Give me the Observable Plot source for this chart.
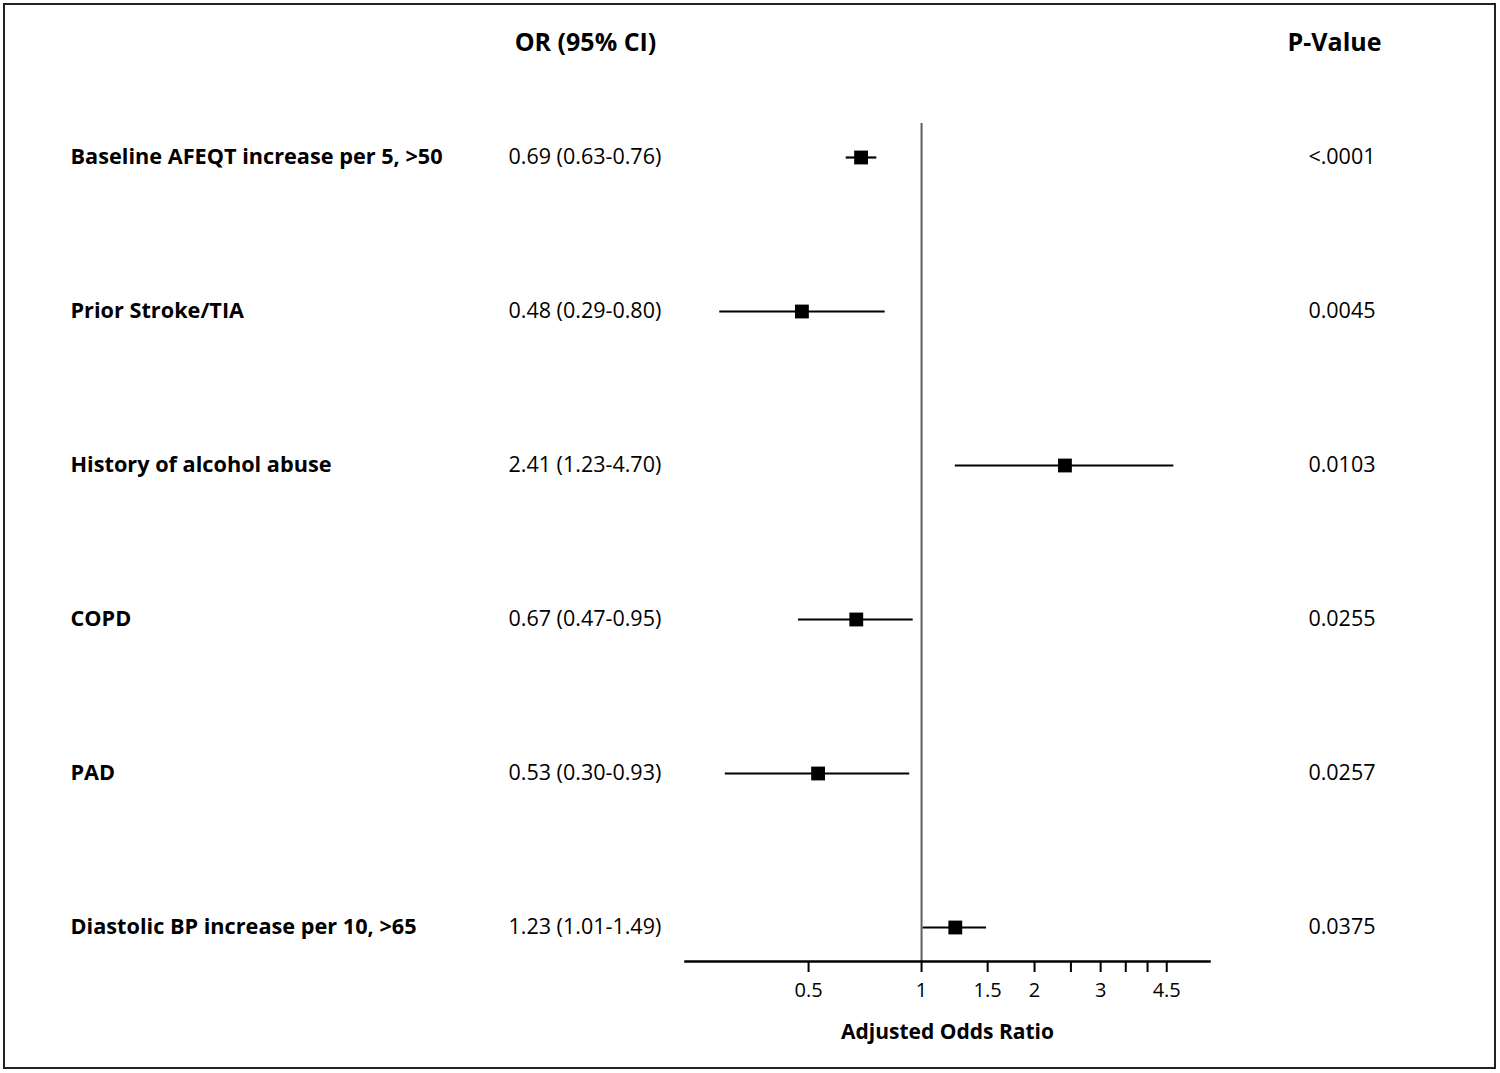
<!DOCTYPE html>
<html>
<head>
<meta charset="utf-8">
<script src="https://cdn.jsdelivr.net/npm/d3@7"></script>
<script src="https://cdn.jsdelivr.net/npm/@observablehq/plot@0.6"></script>
<style>
  html, body { margin: 0; padding: 0; background: #fff; }
  #wrap { position: relative; width: 1500px; height: 1073px; overflow: hidden; }
  #border { position: absolute; left: 3px; top: 3px; width: 1489px; height: 1062px; border: 2px solid #222; pointer-events: none; }
  svg { font-family: "Open Sans", sans-serif; }
</style>
</head>
<body>
<div id="wrap"><div id="border"></div></div>
<script>
const labels = [
  "Baseline AFEQT increase per 5, >50",
  "Prior Stroke/TIA",
  "History of alcohol abuse",
  "COPD",
  "PAD",
  "Diastolic BP increase per 10, >65"
];
const orValues = [0.69, 0.48, 2.41, 0.67, 0.53, 1.23];
const ciLow = [0.63, 0.29, 1.23, 0.47, 0.30, 1.01];
const ciHigh = [0.76, 0.80, 4.70, 0.95, 0.93, 1.49];
const pValues = ["<.0001", "0.0045", "0.0103", "0.0255", "0.0257", "0.0375"];
const tickValues = [0.5, 1, 1.5, 2, 3, 4.5];
const minorTicks = [2.5, 3.5, 4];
const headerOR = "OR (95% CI)";
const headerP = "P-Value";
const xLabel = "Adjusted Odds Ratio";

const fmt = d => d.toFixed(2);
const rows = labels.map((label, i) => ({
  label, or: orValues[i], lo: ciLow[i], hi: ciHigh[i], p: pValues[i],
  orText: `${fmt(orValues[i])} (${fmt(ciLow[i])}-${fmt(ciHigh[i])})`
}));

const W = 1500, H = 1073;
const mL = 685, mR = 291, mT = 123, mB = 112;

const chart = Plot.plot({
  width: W,
  height: H,
  marginLeft: mL,
  marginRight: mR,
  marginTop: mT,
  marginBottom: mB,
  style: { fontFamily: "'Open Sans', sans-serif", background: "transparent" },
  x: { type: "log", domain: [0.235, 5.85] },
  y: { type: "point", domain: labels, padding: 0.215, axis: null },
  marks: [
    Plot.ruleX([1], { stroke: "#5e5e5e", strokeWidth: 2 }),
    Plot.ruleY(rows, { y: "label", x1: "lo", x2: "hi", stroke: "#000", strokeWidth: 2.2 }),
    Plot.dot(rows, { x: "or", y: "label", symbol: "square", r: 7.8, fill: "#000", stroke: "none" }),
    Plot.axisX(tickValues, { tickFormat: d => String(d), tickSize: 11, tickPadding: 10, fontSize: 20, stroke: "#000", strokeWidth: 2, fill: "#000", label: null }),
    Plot.axisX(minorTicks, { tickFormat: () => "", tickSize: 11, stroke: "#000", strokeWidth: 2, label: null }),
    Plot.frame({ anchor: "bottom", stroke: "#000", strokeWidth: 2.5 }),
    Plot.text(rows, { y: "label", text: "label", frameAnchor: "left", dx: 70 - mL, textAnchor: "start", fontWeight: "bold", fontSize: 21.7, fill: "#000" }),
    Plot.text(rows, { y: "label", text: "orText", frameAnchor: "left", dx: 508 - mL, textAnchor: "start", fontSize: 21.5, fill: "#000" }),
    Plot.text(rows, { y: "label", text: "p", frameAnchor: "left", dx: 1375 - mL, textAnchor: "end", fontSize: 21.5, fill: "#000" }),
    Plot.text([headerOR], { frameAnchor: "top-left", dx: 585 - mL, dy: 42 - mT, textAnchor: "middle", lineAnchor: "middle", fontWeight: "bold", fontSize: 25, fill: "#000" }),
    Plot.text([headerP], { frameAnchor: "top-left", dx: 1334 - mL, dy: 42 - mT, textAnchor: "middle", lineAnchor: "middle", fontWeight: "bold", fontSize: 25, fill: "#000", letterSpacing: 1 }),
    Plot.text([xLabel], { frameAnchor: "bottom", dy: 71, lineAnchor: "middle", fontWeight: "bold", fontSize: 21, fill: "#000" })
  ]
});
document.getElementById("wrap").prepend(chart);
</script>
</body>
</html>
